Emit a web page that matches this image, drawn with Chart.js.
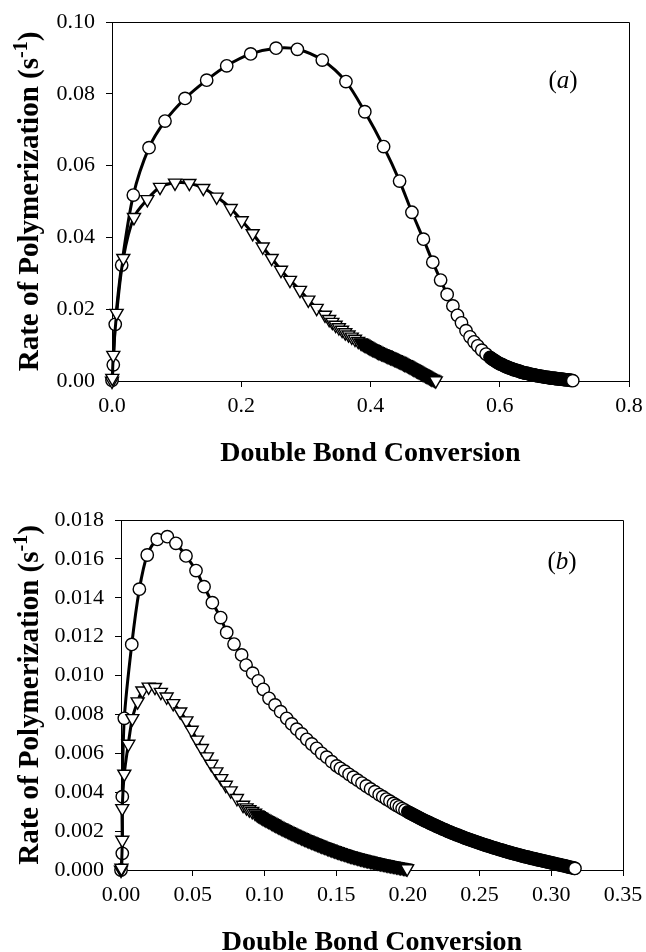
<!DOCTYPE html>
<html>
<head>
<meta charset="utf-8">
<script src="https://cdn.jsdelivr.net/npm/chart.js@4.4.0/dist/chart.umd.min.js"></script>
<style>
html,body{margin:0;padding:0;background:#fff;}
#wrap{position:relative;width:646px;height:952px;overflow:hidden;}
canvas{position:absolute;left:0;}
#ca{top:0;}
#cb{top:476px;}
</style>
</head>
<body>
<div id="wrap">
<canvas id="ca" width="646" height="476"></canvas>
<canvas id="cb" width="646" height="476"></canvas>
</div>
<script>
// ---------------- DATA ----------------
// Panel (a): x = double bond conversion, y = rate of polymerization (1/s)
const xTickValsA = [0, 0.2, 0.4, 0.6, 0.8];
const xTickLabelsA = ['0.0', '0.2', '0.4', '0.6', '0.8'];
const yTickValsA = [0, 0.02, 0.04, 0.06, 0.08, 0.10];
const yTickLabelsA = ['0.00', '0.02', '0.04', '0.06', '0.08', '0.10'];

const circlesA = [
[0.000,0.0002],[0.002,0.0045],[0.005,0.0158],[0.015,0.0323],[0.033,0.0518],[0.0573,0.0650],
[0.082,0.0724],[0.113,0.0787],[0.1465,0.0838],[0.1775,0.0878],[0.2146,0.0911],[0.2538,0.0927],
[0.2868,0.0924],[0.3254,0.0894],[0.362,0.0834],[0.3912,0.0750],[0.4203,0.0653],[0.445,0.0557],
[0.4641,0.0470],[0.4819,0.0395],[0.4964,0.0331],[0.5085,0.0281],[0.5186,0.0241],[0.5275,0.0209],
[0.5345,0.0183],[0.5408,0.0162],[0.5478,0.0140],[0.554,0.0123],[0.5602,0.0109],[0.5659,0.0098],
[0.5721,0.0086],[0.5788,0.0075],[0.585,0.0066],
[0.587,0.0063],[0.589,0.0060],[0.591,0.0058],[0.593,0.0056],[0.595,0.0053],[0.597,0.0051],
[0.599,0.0049],[0.601,0.0047],[0.603,0.0046],[0.605,0.0044],[0.607,0.0042],[0.609,0.0041],
[0.611,0.0039],[0.613,0.0038],[0.615,0.0036],[0.617,0.0035],[0.619,0.0034],[0.621,0.0032],
[0.623,0.0031],[0.625,0.0030],[0.627,0.0029],[0.629,0.0028],[0.631,0.0027],[0.633,0.0025],
[0.635,0.0024],[0.637,0.0023],[0.639,0.0022],[0.641,0.0022],[0.643,0.0021],[0.645,0.0020],
[0.647,0.0019],[0.649,0.0018],[0.651,0.0018],[0.653,0.0017],[0.655,0.0016],[0.657,0.0015],
[0.659,0.0014],[0.661,0.0014],[0.663,0.0013],[0.665,0.0013],[0.667,0.0012],[0.669,0.0011],
[0.671,0.0011],[0.673,0.0010],[0.675,0.0010],[0.677,0.0009],[0.679,0.0008],[0.681,0.0008],
[0.683,0.0008],[0.685,0.0007],[0.687,0.0007],[0.689,0.0006],[0.691,0.0006],[0.693,0.0005],
[0.695,0.0005],[0.697,0.0005],[0.699,0.0004],[0.701,0.0004],[0.703,0.0003],[0.705,0.0003],
[0.707,0.0003],[0.709,0.0002],[0.711,0.0002],[0.713,0.0001]
];

const trianglesA = [
[0.000,0.0000],[0.0005,0.0008],[0.002,0.0072],[0.0072,0.0189],[0.0175,0.0342],[0.034,0.0456],
[0.0547,0.0506],[0.0743,0.0540],[0.0975,0.0552],[0.1197,0.0551],[0.1413,0.0537],[0.162,0.0513],
[0.1837,0.0481],[0.2007,0.0447],[0.2177,0.0411],[0.2332,0.0374],[0.2471,0.0342],[0.2615,0.0309],
[0.2754,0.0281],[0.2909,0.0253],[0.3038,0.0226],[0.3167,0.0203],[0.3296,0.0184],
[0.336,0.0172],[0.341,0.0164],[0.346,0.0156],[0.351,0.0149],[0.356,0.0142],[0.361,0.0135],
[0.366,0.0129],[0.371,0.0123],[0.376,0.0117],[0.381,0.0111],[0.385,0.0107],
[0.387,0.0105],[0.389,0.0103],[0.391,0.0101],[0.393,0.0099],[0.395,0.0097],[0.397,0.0095],
[0.399,0.0093],[0.401,0.0091],[0.403,0.0089],[0.405,0.0088],[0.407,0.0086],[0.409,0.0084],
[0.411,0.0082],[0.413,0.0080],[0.415,0.0079],[0.417,0.0077],[0.419,0.0076],[0.421,0.0074],
[0.423,0.0073],[0.425,0.0071],[0.427,0.0069],[0.429,0.0068],[0.431,0.0066],[0.433,0.0065],
[0.435,0.0063],[0.437,0.0061],[0.439,0.0060],[0.441,0.0058],[0.443,0.0056],[0.445,0.0055],
[0.447,0.0053],[0.449,0.0051],[0.451,0.0049],[0.453,0.0047],[0.455,0.0046],[0.457,0.0044],
[0.459,0.0042],[0.461,0.0040],[0.463,0.0038],[0.465,0.0036],[0.467,0.0034],[0.469,0.0032],
[0.471,0.0030],[0.473,0.0028],[0.475,0.0026],[0.477,0.0024],[0.479,0.0022],[0.481,0.0020],
[0.483,0.0018],[0.485,0.0016],[0.487,0.0014],[0.489,0.0012],[0.491,0.0010],[0.493,0.0008],
[0.495,0.0006],[0.497,0.0005],[0.499,0.0003],[0.501,0.0001]
];

// Panel (b)
const xTickValsB = [0, 0.05, 0.10, 0.15, 0.20, 0.25, 0.30, 0.35];
const xTickLabelsB = ['0.00', '0.05', '0.10', '0.15', '0.20', '0.25', '0.30', '0.35'];
const yTickValsB = [0, 0.002, 0.004, 0.006, 0.008, 0.010, 0.012, 0.014, 0.016, 0.018];
const yTickLabelsB = ['0.000', '0.002', '0.004', '0.006', '0.008', '0.010', '0.012', '0.014', '0.016', '0.018'];

const circlesB = [
[0.000,0.0000],[0.0009,0.00086],[0.0009,0.00377],[0.0023,0.0078],[0.0075,0.0116],[0.0128,0.01444],
[0.0183,0.0162],[0.0253,0.0170],[0.0323,0.01714],[0.0383,0.0168],[0.0453,0.01615],[0.0523,0.0154],
[0.0579,0.01457],[0.0637,0.01375],[0.0695,0.01298],[0.0737,0.01222],[0.0788,0.01162],[0.0841,0.01106],
[0.0872,0.01054],[0.0918,0.01012],[0.0957,0.00973],[0.0992,0.00929],[0.1032,0.00883],[0.1074,0.00849],
[0.1113,0.00814],[0.1155,0.0078],[0.119,0.00751],[0.1225,0.00724],[0.126,0.0070],[0.1295,0.00672],
[0.133,0.00648],[0.1364,0.00626],[0.1399,0.0060],[0.1434,0.0058],[0.1469,0.00557],[0.1504,0.00535],
[0.153,0.00523],[0.156,0.00508],[0.159,0.00492],[0.162,0.00477],[0.165,0.00462],[0.168,0.00447],
[0.171,0.00432],[0.174,0.00417],[0.177,0.00403],[0.180,0.00388],[0.1825,0.00377],[0.185,0.00365],
[0.1875,0.00354],[0.190,0.00342],[0.192,0.00333],[0.194,0.00325],[0.196,0.00316],[0.198,0.00308],
[0.200,0.00299],
[0.201,0.00295],[0.202,0.00291],[0.203,0.00287],[0.204,0.00283],[0.205,0.00280],[0.206,0.00276],
[0.207,0.00272],[0.208,0.00268],[0.209,0.00264],[0.210,0.00260],[0.211,0.00257],[0.212,0.00253],
[0.213,0.00250],[0.214,0.00246],[0.215,0.00243],[0.216,0.00239],[0.217,0.00236],[0.218,0.00232],
[0.219,0.00229],[0.220,0.00225],[0.221,0.00222],[0.222,0.00219],[0.223,0.00215],[0.224,0.00212],
[0.225,0.00209],[0.226,0.00206],[0.227,0.00203],[0.228,0.00199],[0.229,0.00196],[0.230,0.00193],
[0.231,0.00190],[0.232,0.00187],[0.233,0.00184],[0.234,0.00181],[0.235,0.00179],[0.236,0.00176],
[0.237,0.00173],[0.238,0.00170],[0.239,0.00167],[0.240,0.00164],[0.241,0.00161],[0.242,0.00159],
[0.243,0.00156],[0.244,0.00154],[0.245,0.00151],[0.246,0.00148],[0.247,0.00146],[0.248,0.00143],
[0.249,0.00141],[0.250,0.00138],[0.251,0.00136],[0.252,0.00133],[0.253,0.00131],[0.254,0.00128],
[0.255,0.00126],[0.256,0.00124],[0.257,0.00121],[0.258,0.00119],[0.259,0.00116],[0.260,0.00114],
[0.261,0.00112],[0.262,0.00110],[0.263,0.00107],[0.264,0.00105],[0.265,0.00103],[0.266,0.00101],
[0.267,0.00099],[0.268,0.00096],[0.269,0.00094],[0.270,0.00092],[0.271,0.00090],[0.272,0.00088],
[0.273,0.00086],[0.274,0.00084],[0.275,0.00082],[0.276,0.00080],[0.277,0.00078],[0.278,0.00076],
[0.279,0.00074],[0.280,0.00072],[0.281,0.00070],[0.282,0.00068],[0.283,0.00067],[0.284,0.00065],
[0.285,0.00063],[0.286,0.00061],[0.287,0.00059],[0.288,0.00058],[0.289,0.00056],[0.290,0.00054],
[0.291,0.00052],[0.292,0.00051],[0.293,0.00049],[0.294,0.00047],[0.295,0.00046],[0.296,0.00044],
[0.297,0.00042],[0.298,0.00040],[0.299,0.00039],[0.300,0.00037],[0.301,0.00035],[0.302,0.00034],
[0.303,0.00032],[0.304,0.00030],[0.305,0.00028],[0.306,0.00027],[0.307,0.00025],[0.308,0.00023],
[0.309,0.00022],[0.310,0.00020],[0.311,0.00018],[0.312,0.00016],[0.313,0.00014],[0.314,0.00013],
[0.315,0.00011],[0.316,0.00009],[0.3165,0.00008]
];

const trianglesB = [
[0.000,0.0000],[0.0003,0.0001],[0.0009,0.00154],[0.0009,0.00317],[0.0023,0.00494],[0.0051,0.00648],
[0.0079,0.0078],[0.0116,0.00866],[0.0149,0.00922],[0.0193,0.00942],[0.0237,0.0094],[0.0278,0.00915],
[0.0318,0.00891],[0.0364,0.00857],[0.0413,0.00814],[0.0456,0.00768],[0.0493,0.0072],[0.053,0.00669],
[0.0564,0.00626],[0.0599,0.00583],[0.063,0.00545],[0.0665,0.00506],[0.0699,0.00471],[0.0731,0.00437],
[0.0765,0.00408],[0.0808,0.00369],[0.0851,0.00334],
[0.0875,0.00321],[0.0895,0.00311],[0.0915,0.00302],[0.0935,0.00293],
[0.095,0.00285],[0.096,0.00281],[0.097,0.00276],[0.098,0.00272],[0.099,0.00267],[0.100,0.00263],
[0.101,0.00259],[0.102,0.00255],[0.103,0.00251],[0.104,0.00247],[0.105,0.00243],[0.106,0.00239],
[0.107,0.00235],[0.108,0.00231],[0.109,0.00227],[0.110,0.00223],[0.111,0.00219],[0.112,0.00216],
[0.113,0.00212],[0.114,0.00209],[0.115,0.00205],[0.116,0.00201],[0.117,0.00198],[0.118,0.00194],
[0.119,0.00191],[0.120,0.00187],[0.121,0.00184],[0.122,0.00180],[0.123,0.00177],[0.124,0.00174],
[0.125,0.00170],[0.126,0.00167],[0.127,0.00164],[0.128,0.00160],[0.129,0.00157],[0.130,0.00154],
[0.131,0.00151],[0.132,0.00148],[0.133,0.00145],[0.134,0.00142],[0.135,0.00139],[0.136,0.00136],
[0.137,0.00133],[0.138,0.00130],[0.139,0.00127],[0.140,0.00124],[0.141,0.00121],[0.142,0.00119],
[0.143,0.00116],[0.144,0.00113],[0.145,0.00110],[0.146,0.00108],[0.147,0.00105],[0.148,0.00102],
[0.149,0.00100],[0.150,0.00097],[0.151,0.00095],[0.152,0.00092],[0.153,0.00090],[0.154,0.00087],
[0.155,0.00085],[0.156,0.00083],[0.157,0.00080],[0.158,0.00078],[0.159,0.00075],[0.160,0.00073],
[0.161,0.00071],[0.162,0.00069],[0.163,0.00067],[0.164,0.00065],[0.165,0.00063],[0.166,0.00061],
[0.167,0.00059],[0.168,0.00057],[0.169,0.00055],[0.170,0.00053],[0.171,0.00051],[0.172,0.00050],
[0.173,0.00048],[0.174,0.00046],[0.175,0.00044],[0.176,0.00043],[0.177,0.00041],[0.178,0.00039],
[0.179,0.00038],[0.180,0.00036],[0.181,0.00034],[0.182,0.00033],[0.183,0.00031],[0.184,0.00030],
[0.185,0.00028],[0.186,0.00027],[0.187,0.00025],[0.188,0.00024],[0.189,0.00022],[0.190,0.00021],
[0.191,0.00020],[0.192,0.00018],[0.193,0.00017],[0.194,0.00015],[0.195,0.00014],[0.196,0.00013],
[0.197,0.00011],[0.198,0.00010],[0.199,0.00008],[0.1995,0.00007]
];

const yTitleMain = 'Rate of Polymerization (s';
const yTitleSup = '-1';
const yTitleEnd = ')';
const xTitle = 'Double Bond Conversion';

// ---------------- RENDERING ----------------
const SERIF = '"Liberation Serif", "Times New Roman", serif';
const toXY = arr => arr.map(p => ({x: p[0], y: p[1]}));

// Markers that sit on top of each other (less than ~2 px apart) merge into a
// solid black band, as in the original; isolated markers keep a white fill.
function markerFill(c) {
  if (c.type !== 'data') return '#fff';
  const d = c.dataset.data, i = c.dataIndex;
  if (i >= d.length - 1) return '#fff';
  const sx = c.chart.scales.x, sy = c.chart.scales.y;
  if (!sx || !sy) return '#fff';
  const dx = sx.getPixelForValue(d[i + 1].x) - sx.getPixelForValue(d[i].x);
  const dy = sy.getPixelForValue(d[i + 1].y) - sy.getPixelForValue(d[i].y);
  return Math.hypot(dx, dy) < 2.2 ? '#000' : '#fff';
}

function ds(points, style) {
  const tri = style === 'tri';
  return {
    data: toXY(points),
    showLine: true,
    borderColor: '#000',
    borderWidth: 3,
    tension: 0.3,
    pointStyle: tri ? 'triangle' : 'circle',
    pointRotation: tri ? 180 : 0,
    pointRadius: tri ? 7.5 : 6.2,
    pointBorderWidth: 1.4,
    pointBackgroundColor: markerFill,
    pointBorderColor: '#000',
    clip: false
  };
}

const framePlugin = {
  id: 'frame',
  beforeDatasetsDraw(chart) {
    const {ctx, chartArea: a} = chart;
    ctx.save();
    ctx.strokeStyle = '#000';
    ctx.lineWidth = 1;
    ctx.beginPath();
    ctx.moveTo(Math.round(a.left) + 0.5, Math.round(a.top) + 0.5);
    ctx.lineTo(Math.round(a.right) + 0.5, Math.round(a.top) + 0.5);
    ctx.lineTo(Math.round(a.right) + 0.5, Math.round(a.bottom) + 0.5);
    ctx.stroke();
    ctx.restore();
  }
};

const textPlugin = {
  id: 'texts',
  afterDraw(chart, args, opts) {
    const {ctx, chartArea: a} = chart;
    ctx.save();
    ctx.fillStyle = '#000';
    // y axis title (rotated, with superscript)
    const cy = (a.top + a.bottom) / 2;
    ctx.translate(opts.yTitleX, cy);
    ctx.rotate(-Math.PI / 2);
    ctx.textBaseline = 'alphabetic';
    const parts = [
      [yTitleMain, 'bold 29px ' + SERIF, 0],
      [yTitleSup, 'bold 20px ' + SERIF, -11],
      [yTitleEnd, 'bold 29px ' + SERIF, 0]
    ];
    let total = 0;
    parts.forEach(p => { ctx.font = p[1]; p.w = ctx.measureText(p[0]).width; total += p.w; });
    let x = -total / 2;
    parts.forEach(p => { ctx.font = p[1]; ctx.fillText(p[0], x, p[2]); x += p.w; });
    ctx.setTransform(1, 0, 0, 1, 0, 0);
    // x axis title
    ctx.font = 'bold 28px ' + SERIF;
    ctx.textAlign = 'center';
    ctx.textBaseline = 'alphabetic';
    ctx.fillText(xTitle, (a.left + a.right) / 2, opts.xTitleY);
    // panel label "(a)" with italic letter
    const lp = [['(', '25px ' + SERIF], [opts.letter, 'italic 25px ' + SERIF], [')', '25px ' + SERIF]];
    let lw = 0;
    lp.forEach(p => { ctx.font = p[1]; p.w = ctx.measureText(p[0]).width; lw += p.w; });
    let lx = opts.labelX - lw / 2;
    ctx.textAlign = 'left';
    lp.forEach(p => { ctx.font = p[1]; ctx.fillText(p[0], lx, opts.labelY); lx += p.w; });
    ctx.restore();
  }
};

function makeChart(canvasId, cfg) {
  const tickFont = {family: SERIF, size: 22};
  return new Chart(document.getElementById(canvasId), {
    type: 'scatter',
    data: {datasets: [ds(cfg.tri, 'tri'), ds(cfg.circ, 'circ')]},
    options: {
      responsive: false,
      animation: false,
      devicePixelRatio: 1,
      layout: {padding: {left: 0, top: cfg.padTop, right: cfg.padRight, bottom: 0}},
      plugins: {
        legend: {display: false},
        tooltip: {enabled: false},
        texts: cfg.texts
      },
      scales: {
        x: {
          type: 'linear',
          min: cfg.xMin, max: cfg.xMax,
          afterBuildTicks: s => { s.ticks = cfg.xTickVals.map(v => ({value: v})); },
          afterFit: s => { s.height = cfg.xAxisH; s.paddingLeft = 0; s.paddingRight = 0; },
          ticks: {
            font: tickFont, color: '#000', padding: 6, maxRotation: 0, autoSkip: false,
            callback: (v, i) => cfg.xTickLabels[i]
          },
          grid: {drawOnChartArea: false, drawTicks: true, tickLength: 6, color: '#000', lineWidth: 1},
          border: {display: true, color: '#000', width: 1}
        },
        y: {
          type: 'linear',
          min: cfg.yMin, max: cfg.yMax,
          afterBuildTicks: s => { s.ticks = cfg.yTickVals.map(v => ({value: v})); },
          afterFit: s => { s.width = cfg.yAxisW; s.paddingTop = 0; s.paddingBottom = 0; },
          ticks: {
            font: tickFont, color: '#000', padding: 11, autoSkip: false,
            callback: (v, i) => cfg.yTickLabels[i]
          },
          grid: {drawOnChartArea: false, drawTicks: true, tickLength: 6, color: '#000', lineWidth: 1},
          border: {display: true, color: '#000', width: 1}
        }
      }
    },
    plugins: [framePlugin, textPlugin]
  });
}

makeChart('ca', {
  tri: trianglesA, circ: circlesA,
  xMin: 0, xMax: 0.8, yMin: 0, yMax: 0.10,
  xTickVals: xTickValsA, xTickLabels: xTickLabelsA,
  yTickVals: yTickValsA, yTickLabels: yTickLabelsA,
  padTop: 22, padRight: 17, yAxisW: 112, xAxisH: 95,
  texts: {yTitleX: 37.5, xTitleY: 461, letter: 'a', labelX: 563, labelY: 88}
});

makeChart('cb', {
  tri: trianglesB, circ: circlesB,
  xMin: 0, xMax: 0.35, yMin: 0, yMax: 0.018,
  xTickVals: xTickValsB, xTickLabels: xTickLabelsB,
  yTickVals: yTickValsB, yTickLabels: yTickLabelsB,
  padTop: 44, padRight: 23, yAxisW: 121, xAxisH: 82,
  texts: {yTitleX: 37.5, xTitleY: 474, letter: 'b', labelX: 562, labelY: 93}
});
</script>
</body>
</html>
